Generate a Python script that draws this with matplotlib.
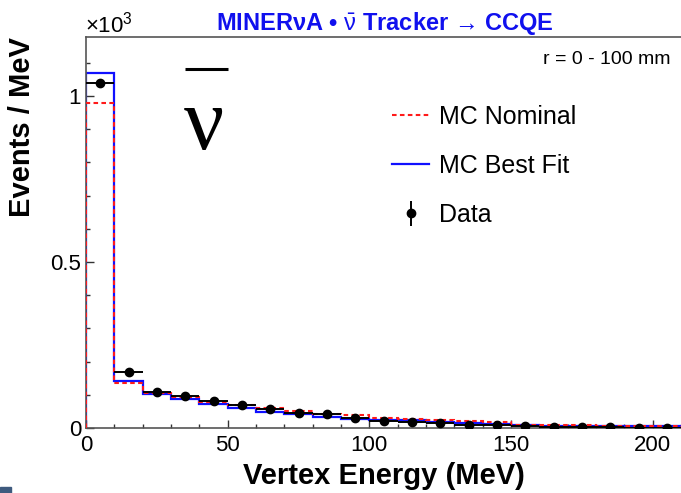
import numpy as np
import matplotlib
matplotlib.use('Agg')
import matplotlib.pyplot as plt
from matplotlib.patches import Rectangle
from matplotlib.ticker import MultipleLocator

plt.rcParams.update({
    'font.family': ['Liberation Sans', 'DejaVu Sans'],
    'mathtext.fontset': 'custom',
    'mathtext.rm': 'Liberation Sans',
    'mathtext.it': 'Liberation Sans',
    'mathtext.bf': 'Liberation Sans:bold',
})

# Vertex energy binning (MeV) and rates in units of 10^3 events / MeV
bin_edges = np.arange(0, 220, 10)
data_vals = [1.040, 0.169, 0.110, 0.097, 0.080, 0.068, 0.056, 0.046, 0.042, 0.031,
             0.020, 0.019, 0.015, 0.009, 0.008, 0.005, 0.003, 0.002, 0.002, 0.001, 0.001]
data_errs = [0.010, 0.004, 0.003, 0.003, 0.003, 0.003, 0.002, 0.002, 0.002, 0.002,
             0.001, 0.001, 0.001, 0.001, 0.001, 0.001, 0.001, 0.001, 0.001, 0.001, 0.001]
mc_nominal = [0.979, 0.137, 0.106, 0.092, 0.078, 0.068, 0.059, 0.050, 0.043, 0.040,
              0.031, 0.028, 0.025, 0.020, 0.018, 0.010, 0.009, 0.008, 0.007, 0.006, 0.006]
mc_bestfit = [1.069, 0.143, 0.103, 0.087, 0.071, 0.060, 0.048, 0.042, 0.033, 0.028,
              0.025, 0.023, 0.019, 0.015, 0.013, 0.008, 0.007, 0.006, 0.005, 0.005, 0.005]

centers = 0.5 * (bin_edges[:-1] + bin_edges[1:])
half_w = 0.5 * np.diff(bin_edges)

fig = plt.figure(figsize=(6.81, 4.93), dpi=100)
ax = fig.add_axes([0.1263, 0.1318, 0.8737, 0.7932])

ax.stairs(mc_bestfit, bin_edges, color='#1010ff', lw=1.6, zorder=2)
ax.stairs(mc_nominal, bin_edges, color='#ff1a1a', lw=1.5, ls=(0, (2.2, 1.6)), zorder=3)
ax.errorbar(centers, data_vals, xerr=half_w, yerr=data_errs, fmt='o', color='k',
            ms=6, elinewidth=1.4, capsize=0, zorder=4)

ax.set_xlim(0, 210)
ax.set_ylim(0, 1.178)

ax.xaxis.set_major_locator(MultipleLocator(50))
ax.xaxis.set_minor_locator(MultipleLocator(10))
ax.yaxis.set_major_locator(MultipleLocator(0.5))
ax.yaxis.set_minor_locator(MultipleLocator(0.1))
ax.set_yticks([0, 0.5, 1.0])
ax.set_yticklabels(['0', '0.5', '1'])
ax.tick_params(which='both', direction='in', colors='#333333', labelcolor='black',
               labelsize=16, width=1.0)
ax.tick_params(which='major', length=6)
ax.tick_params(which='minor', length=3)
ax.tick_params(axis='x', pad=5)

for side in ['left', 'bottom', 'top']:
    ax.spines[side].set_color('#555555')
    ax.spines[side].set_linewidth(1.2)
ax.spines['right'].set_visible(False)

ax.set_xlabel('Vertex Energy (MeV)', fontsize=21, fontweight='bold', labelpad=4)
ax.set_ylabel('Events / MeV', fontsize=21, fontweight='bold', labelpad=10, loc='top')

ax.text(-0.002, 0.998, r'$\times10^{3}$', transform=ax.transAxes, fontsize=16,
        ha='left', va='bottom')
fig.text(0.565, 0.953, 'MINER\u03bdA \u2022 ' + r'$\bar{\nu}$' + ' Tracker \u2192 CCQE',
         color='#1010ee', fontsize=17, fontweight='bold', ha='center', va='center')
ax.text(0.982, 0.965, 'r = 0 - 100 mm', transform=ax.transAxes, fontsize=14,
        ha='right', va='top')

# antineutrino label
ax.text(0.198, 0.665, '\u03bd', transform=ax.transAxes, fontsize=64,
        family='Liberation Serif', ha='center', va='bottom')
ax.plot([0.166, 0.239], [0.918, 0.918], transform=ax.transAxes, color='black',
        lw=2.2, solid_capstyle='butt', clip_on=False)

# legend entries
h_nom, = ax.plot([], [], color='#ff1a1a', lw=1.5, ls=(0, (2.2, 1.6)))
h_fit, = ax.plot([], [], color='#1010ff', lw=1.6)
h_dat = ax.errorbar([], [], yerr=[], fmt='o', color='k', ms=6, elinewidth=1.4, capsize=0)
ax.legend([h_nom, h_fit, h_dat], ['MC Nominal', 'MC Best Fit', 'Data'],
          loc='upper left', bbox_to_anchor=(0.515, 0.826), frameon=False,
          fontsize=18, handlelength=1.45, handletextpad=0.4, labelspacing=1.0,
          borderaxespad=0, borderpad=0)

fig.patches.append(Rectangle((0, 0), 11 / 681, 6 / 493, transform=fig.transFigure,
                             color='#3e5a7e', zorder=0))

fig.savefig('out.png', dpi=100)
